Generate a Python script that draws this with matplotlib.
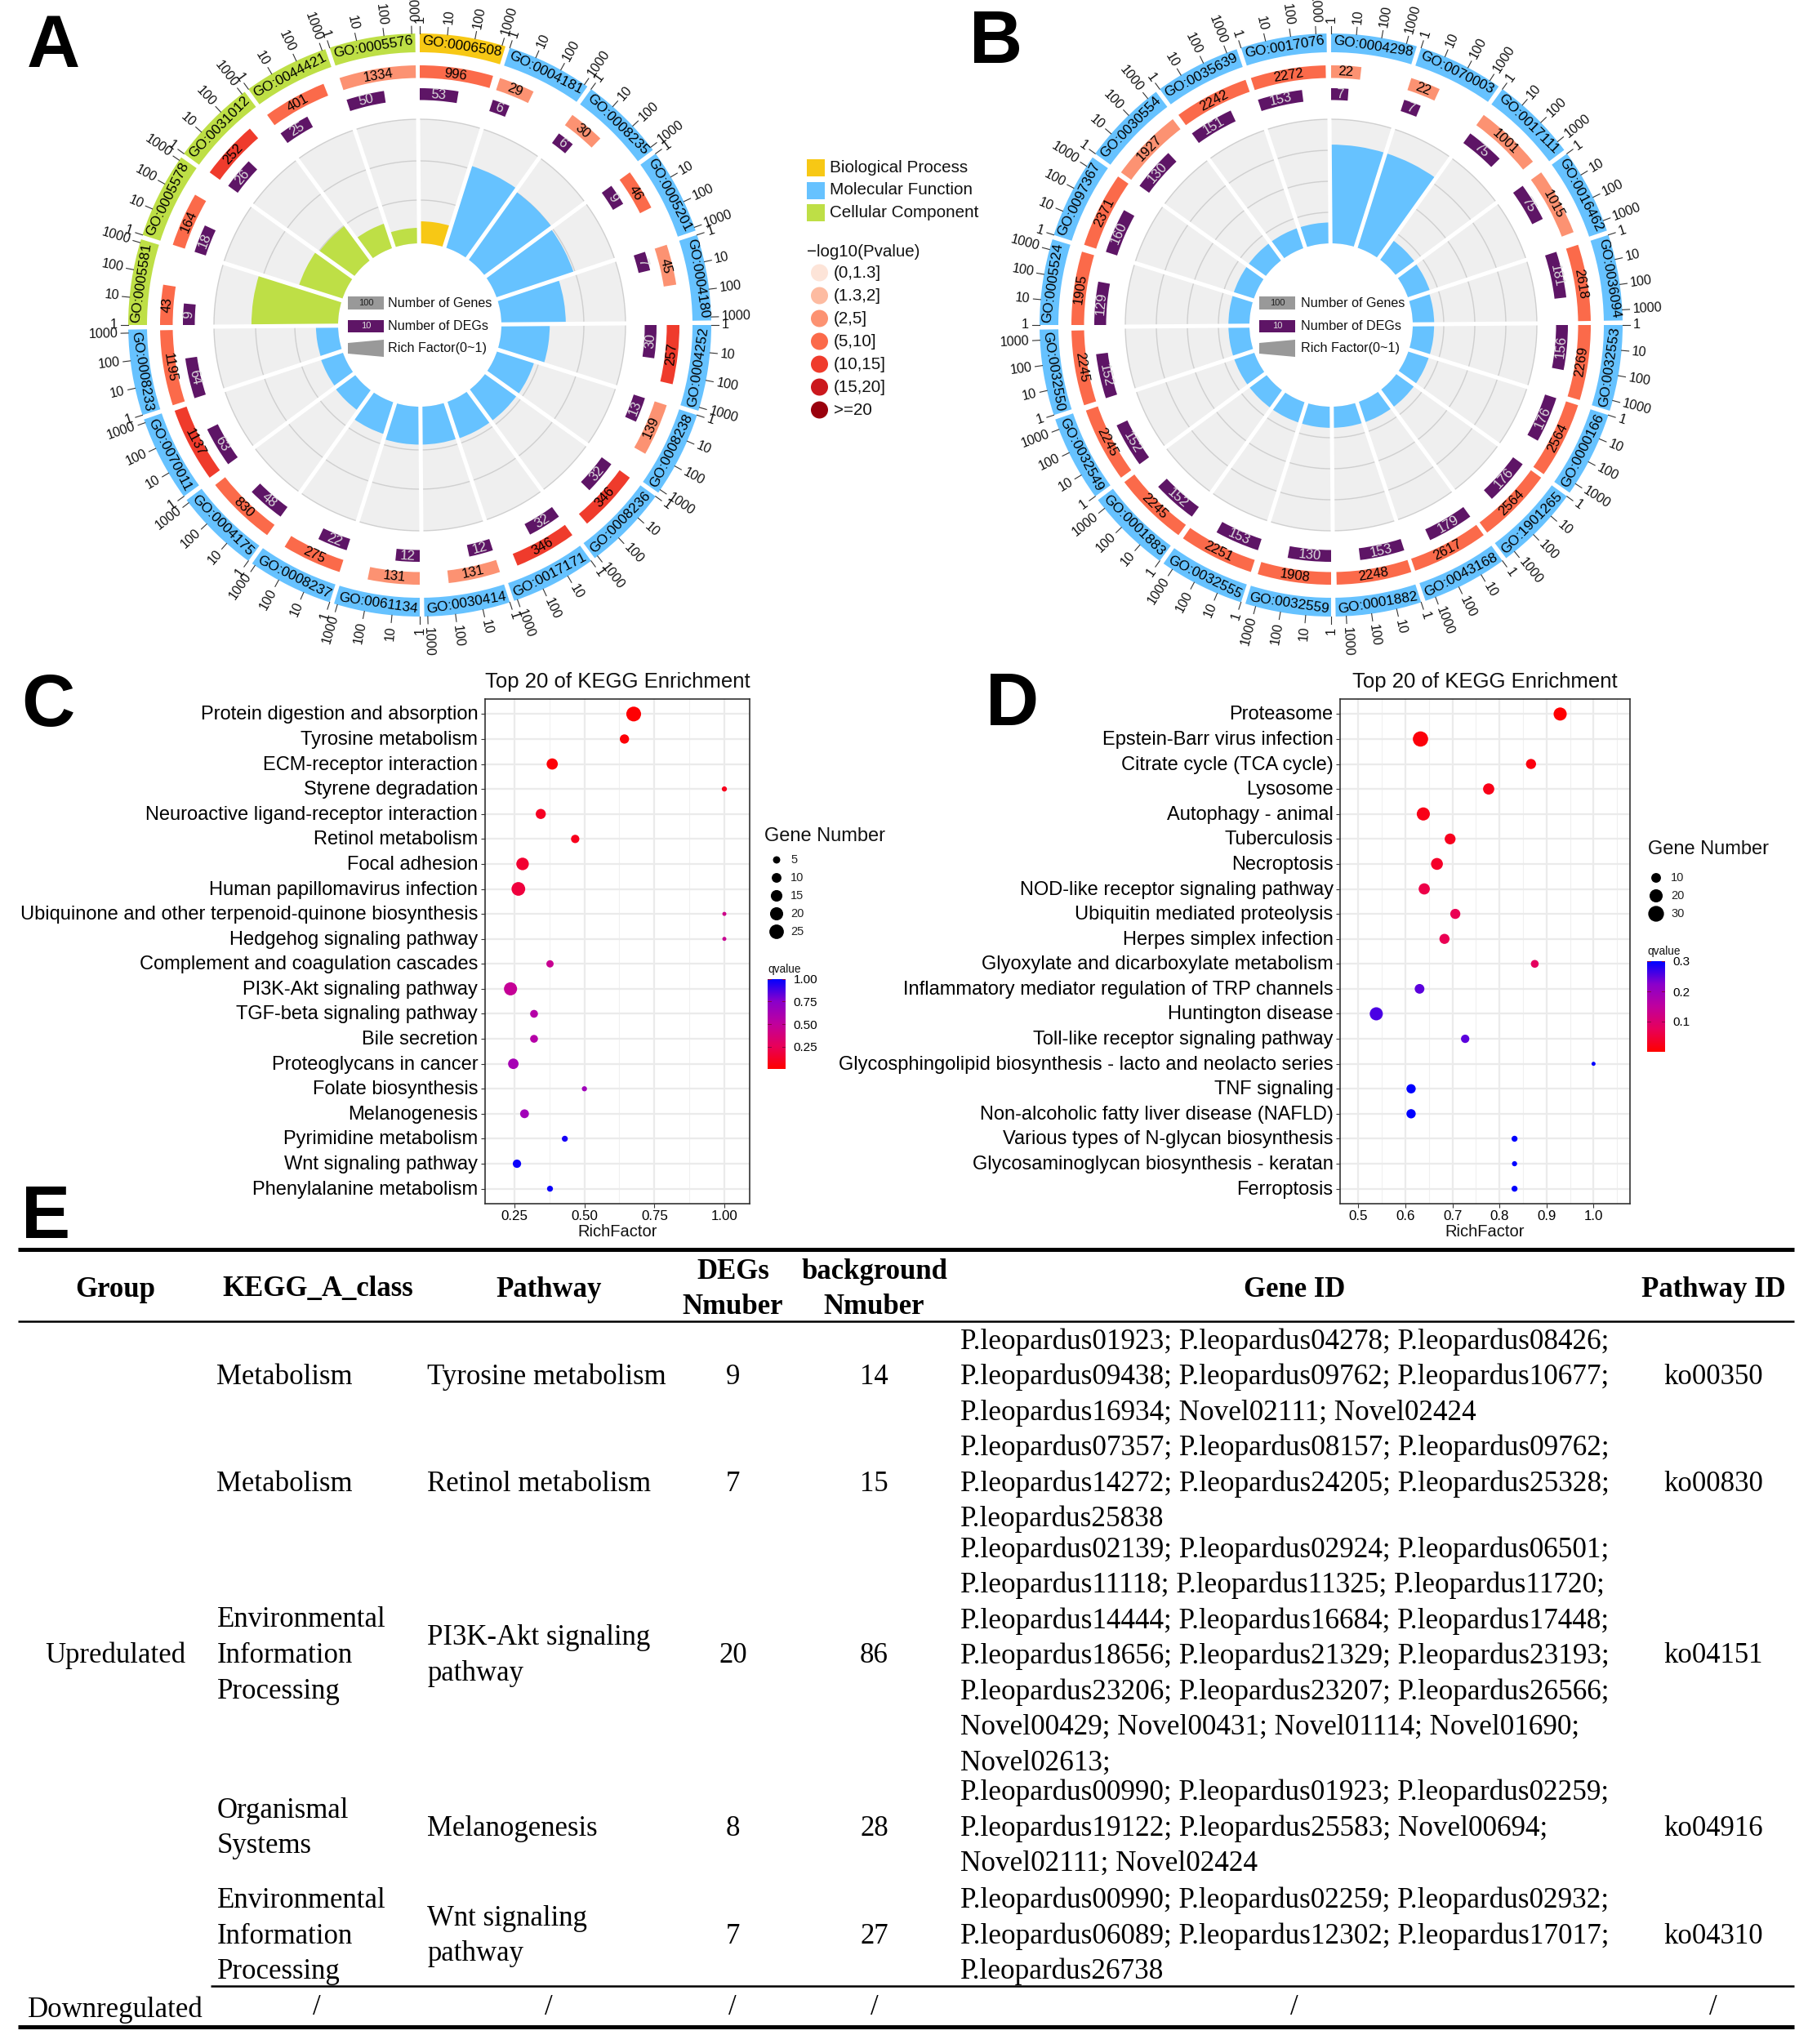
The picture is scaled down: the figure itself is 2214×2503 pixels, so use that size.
import numpy as np
import matplotlib
matplotlib.use("Agg")
import matplotlib.pyplot as plt
from matplotlib.colors import LinearSegmentedColormap
from matplotlib.patches import Polygon, Rectangle, Ellipse
from matplotlib.transforms import ScaledTranslation

W, H = 2214, 2503
SANS = "Liberation Sans"
SERIF = "Liberation Serif"
plt.rcParams["font.family"] = SANS

# panel A
a_terms = ["GO:0006508", "GO:0004181", "GO:0008235", "GO:0005201", "GO:0004180",
           "GO:0004252", "GO:0008238", "GO:0008236", "GO:0017171", "GO:0030414",
           "GO:0061134", "GO:0008237", "GO:0004175", "GO:0070011", "GO:0008233",
           "GO:0005581", "GO:0005578", "GO:0031012", "GO:0044421", "GO:0005576"]
a_onto = [0, 1, 1, 1, 1, 1, 1, 1, 1, 1, 1, 1, 1, 1, 1, 2, 2, 2, 2, 2]
a_genes = [996, 29, 30, 46, 45, 257, 139, 346, 346, 131, 131, 275, 830, 1137, 1195, 43, 164, 252, 401, 1334]
a_degs = [53, 6, 6, 9, 7, 30, 13, 32, 32, 12, 12, 22, 48, 63, 64, 9, 18, 26, 25, 50]
a_pbin = [3, 2, 2, 3, 2, 4, 2, 4, 4, 2, 2, 3, 3, 4, 3, 3, 3, 4, 3, 2]

# panel B
b_terms = ["GO:0004298", "GO:0070003", "GO:0017111", "GO:0016462", "GO:0036094",
           "GO:0032553", "GO:0000166", "GO:1901265", "GO:0043168", "GO:0001882",
           "GO:0032559", "GO:0032555", "GO:0001883", "GO:0032549", "GO:0032550",
           "GO:0005524", "GO:0097367", "GO:0030554", "GO:0035639", "GO:0017076"]
b_onto = [1] * 20
b_genes = [22, 22, 1001, 1015, 2618, 2269, 2564, 2564, 2617, 2248, 1908, 2251, 2245, 2245, 2245, 1905, 2371, 1927, 2242, 2272]
b_degs = [7, 7, 75, 75, 181, 156, 176, 176, 179, 153, 130, 153, 152, 152, 152, 129, 160, 130, 151, 153]
b_pbin = [2, 2, 2, 2, 3, 3, 3, 3, 3, 3, 3, 3, 3, 3, 3, 3, 3, 2, 3, 3]

onto_names = ["Biological Process", "Molecular Function", "Cellular Component"]
onto_colors = ["#F7C815", "#66C2FF", "#BEDF46"]
p_names = ["(0,1.3]", "(1.3,2]", "(2,5]", "(5,10]", "(10,15]", "(15,20]", ">=20"]
p_colors = ["#FDE4D8", "#FDBBA1", "#FC9272", "#FB6A4A", "#EF3B2C", "#CB181D", "#99000D"]
axis_ticks = [1, 10, 100, 1000]

# panel C
c_paths = ["Protein digestion and absorption", "Tyrosine metabolism", "ECM-receptor interaction",
           "Styrene degradation", "Neuroactive ligand-receptor interaction", "Retinol metabolism",
           "Focal adhesion", "Human papillomavirus infection",
           "Ubiquinone and other terpenoid-quinone biosynthesis", "Hedgehog signaling pathway",
           "Complement and coagulation cascades", "PI3K-Akt signaling pathway",
           "TGF-beta signaling pathway", "Bile secretion", "Proteoglycans in cancer",
           "Folate biosynthesis", "Melanogenesis", "Pyrimidine metabolism",
           "Wnt signaling pathway", "Phenylalanine metabolism"]
c_rich = [0.676, 0.643, 0.385, 1.0, 0.344, 0.467, 0.279, 0.264, 1.0, 1.0, 0.377, 0.236, 0.32, 0.32, 0.246, 0.5, 0.286, 0.43, 0.259, 0.377]
c_count = [26, 9, 14, 2, 11, 7, 18, 22, 1, 1, 5, 20, 6, 6, 12, 2, 8, 3, 7, 3]
c_q = [0.01, 0.02, 0.02, 0.08, 0.1, 0.08, 0.14, 0.17, 0.42, 0.45, 0.45, 0.47, 0.55, 0.55, 0.62, 0.65, 0.64, 0.96, 0.98, 0.98]

# panel D
d_paths = ["Proteasome", "Epstein-Barr virus infection", "Citrate cycle (TCA cycle)", "Lysosome",
           "Autophagy - animal", "Tuberculosis", "Necroptosis", "NOD-like receptor signaling pathway",
           "Ubiquitin mediated proteolysis", "Herpes simplex infection",
           "Glyoxylate and dicarboxylate metabolism", "Inflammatory mediator regulation of TRP channels",
           "Huntington disease", "Toll-like receptor signaling pathway",
           "Glycosphingolipid biosynthesis - lacto and neolacto series", "TNF signaling",
           "Non-alcoholic fatty liver disease (NAFLD)", "Various types of N-glycan biosynthesis",
           "Glycosaminoglycan biosynthesis - keratan", "Ferroptosis"]
d_rich = [0.929, 0.632, 0.867, 0.777, 0.638, 0.695, 0.667, 0.640, 0.706, 0.683, 0.875, 0.630, 0.538, 0.727, 1.0, 0.612, 0.612, 0.832, 0.832, 0.832]
d_count = [20, 28, 11, 14, 20, 13, 16, 14, 11, 11, 6, 10, 20, 7, 1, 9, 9, 3, 2, 3]
d_q = [0.002, 0.01, 0.012, 0.02, 0.02, 0.025, 0.035, 0.06, 0.07, 0.07, 0.08, 0.25, 0.26, 0.25, 0.3, 0.3, 0.3, 0.3, 0.3, 0.3]

# panel E
tbl_header = ["Group", "KEGG_A_class", "Pathway", "DEGs\nNmuber", "background\nNmuber", "Gene ID", "Pathway ID"]
tbl_class = ["Metabolism", "Metabolism", "Environmental\nInformation\nProcessing", "Organismal\nSystems",
             "Environmental\nInformation\nProcessing"]
tbl_path = ["Tyrosine metabolism", "Retinol metabolism", "PI3K-Akt signaling\npathway", "Melanogenesis",
            "Wnt signaling\npathway"]
tbl_degs = [9, 7, 20, 8, 7]
tbl_bg = [14, 15, 86, 28, 27]
tbl_ko = ["ko00350", "ko00830", "ko04151", "ko04916", "ko04310"]
tbl_genes = [
    ["P.leopardus01923; P.leopardus04278; P.leopardus08426;",
     "P.leopardus09438; P.leopardus09762; P.leopardus10677;",
     "P.leopardus16934; Novel02111; Novel02424"],
    ["P.leopardus07357; P.leopardus08157; P.leopardus09762;",
     "P.leopardus14272; P.leopardus24205; P.leopardus25328;",
     "P.leopardus25838"],
    ["P.leopardus02139; P.leopardus02924; P.leopardus06501;",
     "P.leopardus11118; P.leopardus11325; P.leopardus11720;",
     "P.leopardus14444; P.leopardus16684; P.leopardus17448;",
     "P.leopardus18656; P.leopardus21329; P.leopardus23193;",
     "P.leopardus23206; P.leopardus23207; P.leopardus26566;",
     "Novel00429; Novel00431; Novel01114; Novel01690;",
     "Novel02613;"],
    ["P.leopardus00990; P.leopardus01923; P.leopardus02259;",
     "P.leopardus19122; P.leopardus25583; Novel00694;",
     "Novel02111; Novel02424"],
    ["P.leopardus00990; P.leopardus02259; P.leopardus02932;",
     "P.leopardus06089; P.leopardus12302; P.leopardus17017;",
     "P.leopardus26738"],
]


def px_axes(x0, y0, x1, y1, **kw):
    # axes from pixel box, y measured from the top
    return fig.add_axes([x0 / W, 1 - y1 / H, (x1 - x0) / W, (y1 - y0) / H], **kw)


def tangent_rot(th):
    return -th if (th <= 90 or th >= 270) else 180 - th


def circos(cx, cy, terms, onto, genes, degs, pbin, rich_scale, grid_r):
    ax = px_axes(cx - 420, cy - 420, cx + 420, cy + 420, projection="polar")
    ax.set_theta_zero_location("N")
    ax.set_theta_direction(-1)
    ax.set_ylim(0, 420)
    ax.axis("off")
    ax.patch.set_alpha(0)
    step = 18.0
    gap = 0.9
    span = step - gap
    maxlog = np.log10(max(genes))

    ax.bar(0, 152, width=2 * np.pi, bottom=100, color="#EFEFEF", linewidth=0, zorder=1)
    tt = np.linspace(0, 2 * np.pi, 361)
    for r in grid_r:
        ax.plot(tt, [r] * 361, color="#CFCFCF", lw=1.0, zorder=1.5)

    for k, term in enumerate(terms):
        start = k * step
        mid = start + span / 2
        t0 = np.deg2rad(start)
        # GO ring
        ax.bar(t0, 23, width=np.deg2rad(span), bottom=334, align="edge",
               color=onto_colors[onto[k]], linewidth=0, zorder=2)
        ax.text(np.deg2rad(mid), 345, term, fontsize=12.4, ha="center", va="center",
                rotation=tangent_rot(mid), rotation_mode="anchor", zorder=5)
        # axis ticks
        for t in axis_ticks:
            th = start + span * min(np.log10(t) / maxlog, 1)
            ax.plot([np.deg2rad(th)] * 2, [357, 366], color="#333333", lw=0.8, zorder=2, clip_on=False)
            is_right = th < 180
            rot = 90 - th if is_right else 270 - th
            ax.text(np.deg2rad(th), 370, str(t), fontsize=11.6, rotation=rot, rotation_mode="anchor",
                    ha="left" if is_right else "right", va="center", clip_on=False, color="#111111")
        # gene ring
        frac = np.log10(genes[k]) / maxlog
        ax.bar(t0, 15.5, width=np.deg2rad(span * frac), bottom=302.5, align="edge",
               color=p_colors[pbin[k]], linewidth=0, zorder=2)
        th = start + span * frac / 2
        ax.text(np.deg2rad(th), 310, str(genes[k]), fontsize=12, ha="center", va="center",
                rotation=tangent_rot(th), rotation_mode="anchor", zorder=5)
        # DEG ring
        frac = np.log10(degs[k]) / maxlog
        ax.bar(t0, 14.5, width=np.deg2rad(span * frac), bottom=275.5, align="edge",
               color="#5E1566", linewidth=0, zorder=2)
        th = start + span * frac / 2
        ax.text(np.deg2rad(th), 283, str(degs[k]), fontsize=12, ha="center", va="center", color="#DDDDDD",
                rotation=tangent_rot(th), rotation_mode="anchor", zorder=5)
        # rich factor
        ax.bar(t0 - np.deg2rad(gap / 2), degs[k] / genes[k] * rich_scale, width=np.deg2rad(step), bottom=100,
               align="edge", color=onto_colors[onto[k]], linewidth=0, zorder=3)
        ax.plot([t0 - np.deg2rad(gap / 2)] * 2, [96, 255], color="white", lw=3.6,
                solid_capstyle="butt", zorder=4)
    return ax


def dotplot(box, xlim, xticks, xfmt, paths, rich, count, q, qmax):
    ax = px_axes(*box)
    ypos = np.arange(len(paths))
    sizes = [((1.75 + 3.2 * np.sqrt(n)) * 0.72) ** 2 for n in count]
    ax.set_axisbelow(True)
    ax.scatter(rich, ypos, s=sizes, c=q, cmap=q_cmap, vmin=0, vmax=qmax, linewidths=0, zorder=3)
    ax.set_xlim(*xlim)
    ax.set_ylim(len(paths) - 0.4, -0.6)
    ax.set_yticks(ypos)
    ax.set_yticklabels(paths, fontsize=17)
    ax.set_xticks(xticks)
    ax.set_xticklabels([xfmt % v for v in xticks], fontsize=12.2)
    minor = [(xticks[i] + xticks[i + 1]) / 2 for i in range(len(xticks) - 1)]
    minor = [xticks[0] - (xticks[1] - xticks[0]) / 2] + minor + [xticks[-1] + (xticks[1] - xticks[0]) / 2]
    ax.set_xticks([m for m in minor if xlim[0] < m < xlim[1]], minor=True)
    ax.grid(which="major", color="#EBEBEB", lw=1.6)
    ax.grid(which="minor", axis="x", color="#F0F0F0", lw=0.8)
    ax.tick_params(which="minor", length=0)
    ax.tick_params(which="major", length=3.5, width=0.8, color="#333333", pad=2.5)
    up = ScaledTranslation(0, 1.5 / 100, fig.dpi_scale_trans)
    for lab in ax.get_yticklabels():
        lab.set_transform(lab.get_transform() + up)
    for s in ax.spines.values():
        s.set_color("#333333")
        s.set_linewidth(1.2)
    return ax


def colorbar(x0, y0, x1, y1, vmax_show, ticks, fmt):
    cax = px_axes(x0, y0, x1, y1)
    grad = np.linspace(1, 0, 200).reshape(-1, 1)
    cax.imshow(grad, cmap=q_cmap, aspect="auto", extent=[0, 1, 0, vmax_show], vmin=0, vmax=1)
    cax.set_xticks([])
    cax.yaxis.tick_right()
    cax.set_yticks(ticks)
    cax.set_yticklabels([fmt % t for t in ticks], fontsize=11)
    cax.tick_params(axis="y", length=0, pad=7)
    for t in ticks:
        cax.plot([0, 0.2], [t, t], color="#880044", lw=0.7)
        cax.plot([0.8, 1], [t, t], color="#880044", lw=0.7)
    cax.set_xlim(0, 1)
    cax.set_ylim(0, vmax_show)
    for s in cax.spines.values():
        s.set_visible(False)


fig = plt.figure(figsize=(W / 100, H / 100), dpi=100, facecolor="white")
# ggplot goes from red to blue through lab space, so the middle stays magenta
q_cmap = LinearSegmentedColormap.from_list("q", ["#FF0000", "#E8005A", "#C0009E", "#8A00CC", "#0000FF"])

circos(514, 398, a_terms, a_onto, a_genes, a_degs, a_pbin, 507, [153, 201, 252])
circos(1630, 398, b_terms, b_onto, b_genes, b_degs, b_pbin, 380, [138, 176, 214, 252])

dotplot((593.5, 856, 918, 1474), (0.1436, 1.0904), [0.25, 0.5, 0.75, 1.0], "%.2f", c_paths, c_rich, c_count, c_q, 1.0)
dotplot((1641, 856, 1995.5, 1474), (0.461, 1.0766), [0.5, 0.6, 0.7, 0.8, 0.9, 1.0], "%.1f", d_paths, d_rich, d_count, d_q, 0.3)
colorbar(940, 1199, 962, 1309, 1.0, [0.25, 0.5, 0.75, 1.0], "%.2f")
colorbar(2017, 1177, 2039, 1288, 0.3, [0.1, 0.2, 0.3], "%.1f")

# overlay for legends, text and table, in figure pixels
ov = fig.add_axes([0, 0, 1, 1], zorder=10)
ov.set_xlim(0, W)
ov.set_ylim(H, 0)
ov.axis("off")
ov.patch.set_alpha(0)

for txt, x, y in [("A", 33, 82), ("B", 1187, 77), ("C", 26, 889), ("D", 1207, 888), ("E", 26, 1516)]:
    ov.text(x, y, txt, fontsize=65, fontweight="bold", ha="left", va="baseline", color="black")

# legend right of A
for i, name in enumerate(onto_names):
    y = 205.5 + i * 27.5
    ov.add_patch(Rectangle((988, y - 10.5), 22, 21, color=onto_colors[i], lw=0))
    ov.text(1016, y, name, fontsize=14.9, va="center", color="#111111")
ov.text(988, 309, "\u2212log10(Pvalue)", fontsize=14.8, va="center", color="#111111")
for i, name in enumerate(p_names):
    y = 334 + i * 28
    ov.add_patch(Ellipse((1003.5, y), 21, 21, color=p_colors[i], lw=0))
    ov.text(1020.5, y, name, fontsize=14.8, va="center", color="#111111")

# legend in the middle of the rings
for x0, xt in [(426, 475), (1542, 1593)]:
    ov.add_patch(Rectangle((x0, 363), 44, 16, color="#999999", lw=0))
    ov.text(x0 + 22, 371, "100", fontsize=8, ha="center", va="center", color="#222222")
    ov.text(xt, 371, "Number of Genes", fontsize=11.6, va="center", color="#111111")
    ov.add_patch(Rectangle((x0, 392), 44, 15, color="#5E1566", lw=0))
    ov.text(x0 + 22, 399.5, "10", fontsize=8, ha="center", va="center", color="#DDDDDD")
    ov.text(xt, 399.5, "Number of DEGs", fontsize=11.6, va="center", color="#111111")
    ov.add_patch(Polygon([(x0, 420), (x0 + 44, 416), (x0 + 44, 437), (x0, 433)], color="#999999", lw=0))
    ov.text(xt, 427, "Rich Factor(0~1)", fontsize=11.6, va="center", color="#111111")

# dot plot titles and legends
for xc, ty in [(756.5, 835), (1818, 835)]:
    ov.text(xc, ty, "Top 20 of KEGG Enrichment", fontsize=18.5, ha="center", va="center", color="#111111")
    ov.text(xc, 1508, "RichFactor", fontsize=14.5, ha="center", va="center", color="#111111")


def size_legend(x_title, y_title, xdot, xlab, ys, vals):
    ov.text(x_title, y_title, "Gene Number", fontsize=17, va="center", color="#111111")
    for y, v in zip(ys, vals):
        d = 1.75 + 3.2 * np.sqrt(v)
        ov.add_patch(Ellipse((xdot, y), d, d, color="black", lw=0))
        ov.text(xlab, y, str(v), fontsize=10.5, va="center", color="#222222")


size_legend(936.5, 1024, 951, 968, [1053, 1075, 1097, 1119, 1141], [5, 10, 15, 20, 25])
size_legend(2018.5, 1040.5, 2028, 2046, [1075, 1097, 1119], [10, 20, 30])
ov.text(940, 1186.5, "qvalue", fontsize=9.8, va="center", color="#111111")
ov.text(2017, 1165, "qvalue", fontsize=9.8, va="center", color="#111111")

# table rules
ov.plot([22, 2197], [1530, 1530], color="black", lw=3.6, solid_capstyle="butt")
ov.plot([22, 2197], [1618, 1618], color="black", lw=1.8, solid_capstyle="butt")
ov.plot([258, 2197], [2432, 2432], color="black", lw=1.8, solid_capstyle="butt")
ov.plot([22, 2197], [2482, 2482], color="black", lw=3.6, solid_capstyle="butt")

T_FS = 25
G_FS = 25.25
D = 2.5  # liberation sits a little high against the scan
col_x = [141, 389, 672, 897.5, 1070.5, 1585.5, 2098]
for x, head in zip(col_x, tbl_header):
    lines = head.split("\n")
    ys = [1576.5] if len(lines) == 1 else [1555, 1598]
    for y, line in zip(ys, lines):
        ov.text(x, y + D, line, family=SERIF, fontsize=T_FS, fontweight="bold", ha="center", va="center")

LINE = 43.5
row_first = [1640.5, 1771, 1895.5, 2193, 2325]
row_mid = []
for first, block in zip(row_first, tbl_genes):
    for i, line in enumerate(block):
        ov.text(1176, first + D + i * LINE, line, family=SERIF, fontsize=G_FS, va="center")
    row_mid.append(first + (len(block) - 1) * LINE / 2)
row_mid[2] = 2025
for i, y in enumerate(row_mid):
    y = y + D
    for txt, x in [(tbl_class[i], 265.5), (tbl_path[i], 523)]:
        lines = txt.split("\n")
        for j, line in enumerate(lines):
            ov.text(x, y + (j - (len(lines) - 1) / 2) * LINE, line, family=SERIF, fontsize=T_FS, va="center")
    ov.text(col_x[3], y, str(tbl_degs[i]), family=SERIF, fontsize=T_FS, ha="center", va="center")
    ov.text(col_x[4], y, str(tbl_bg[i]), family=SERIF, fontsize=T_FS, ha="center", va="center")
    ov.text(col_x[6], y, tbl_ko[i], family=SERIF, fontsize=T_FS, ha="center", va="center")
ov.text(141, 2025 + D, "Upredulated", family=SERIF, fontsize=T_FS, ha="center", va="center")
ov.text(141, 2458.5 + D, "Downregulated", family=SERIF, fontsize=T_FS, ha="center", va="center")
for x in [388, 672, 897, 1070.5, 1585, 2098]:
    ov.text(x, 2458.5, "/", family=SERIF, fontsize=T_FS, ha="center", va="center")

fig.savefig("out.png", dpi=100)
